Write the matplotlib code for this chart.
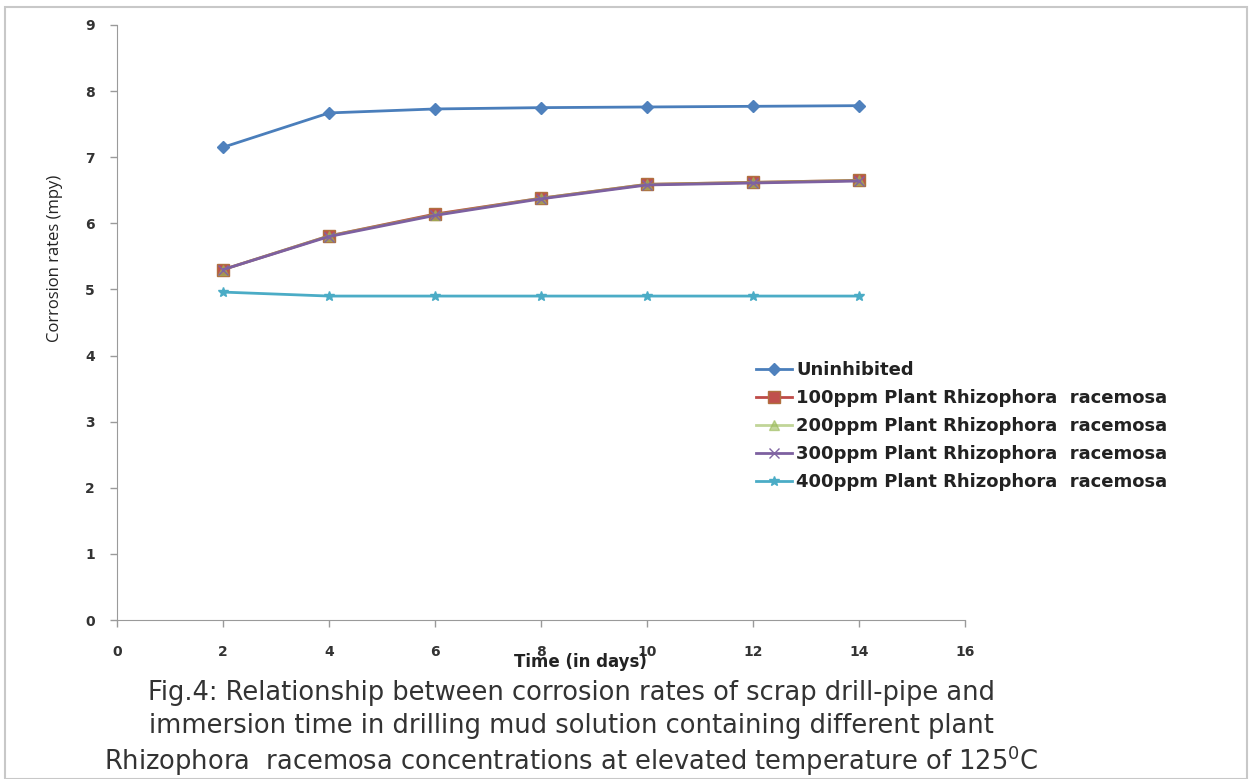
import matplotlib
matplotlib.use('Agg')
import matplotlib.pyplot as plt
from matplotlib.patches import Rectangle

# Data
days = [2, 4, 6, 8, 10, 12, 14]
uninhibited = [7.15, 7.67, 7.73, 7.75, 7.76, 7.77, 7.78]
ppm100 = [5.30, 5.81, 6.14, 6.38, 6.59, 6.62, 6.65]
ppm200 = [5.30, 5.81, 6.13, 6.38, 6.59, 6.62, 6.65]
ppm300 = [5.30, 5.80, 6.12, 6.37, 6.58, 6.61, 6.64]
ppm400 = [4.96, 4.90, 4.90, 4.90, 4.90, 4.90, 4.90]

labels = ['Uninhibited',
          '100ppm Plant Rhizophora  racemosa',
          '200ppm Plant Rhizophora  racemosa',
          '300ppm Plant Rhizophora  racemosa',
          '400ppm Plant Rhizophora  racemosa']

caption = ['Fig.4: Relationship between corrosion rates of scrap drill-pipe and',
           'immersion time in drilling mud solution containing different plant',
           'Rhizophora  racemosa concentrations at elevated temperature of 125$^{0}$C']

W, H = 1260, 779
fig = plt.figure(figsize=(W / 100, H / 100), dpi=100)
ax = fig.add_axes([117 / W, 1 - 620 / H, (965 - 117) / W, (620 - 25) / H])

ax.plot(days, uninhibited, color='#4A7EBB', lw=2, marker='D', ms=6,
        mfc='#4F81BD', mec='#4F81BD', label=labels[0], zorder=3)
ax.plot(days, ppm100, color='#BE4B48', lw=2, marker='s', ms=8,
        mfc='#C0504D', mec='#B0703F', label=labels[1], zorder=3)
ax.plot(days, ppm200, color='#98B954', lw=2, marker='^', ms=7,
        mfc='#9BBB59', mec='#9BBB59', label=labels[2], zorder=3, alpha=0.6)
ax.plot(days, ppm300, color='#7D60A0', lw=2, marker='x', ms=7,
        mec='#8064A2', label=labels[3], zorder=4)
ax.plot(days, ppm400, color='#4BACC6', lw=2, marker='*', ms=7,
        mfc='#4BACC6', mec='#4BACC6', label=labels[4], zorder=3)

ax.set_xlim(0, 16)
ax.set_ylim(0, 9)
ax.set_xticks(range(0, 17, 2))
ax.set_yticks(range(0, 10))

# Axes look
for s in ['top', 'right']:
    ax.spines[s].set_visible(False)
for s in ['left', 'bottom']:
    ax.spines[s].set_color('#9a9a9a')
ax.xaxis.set_tick_params(color='#9a9a9a', labelcolor='#333333', length=5, width=1, pad=13)
ax.yaxis.set_tick_params(color='#9a9a9a', labelcolor='#333333', length=5, width=1, pad=11)
for t in ax.get_xticklabels() + ax.get_yticklabels():
    t.set_fontsize(10)
    t.set_fontweight('bold')

# Axis names
fig.text(580 / W, 1 - 662 / H, 'Time (in days)', ha='center', va='center',
         fontsize=12, fontweight='bold', family='DejaVu Sans', color='#222222')
fig.text(55 / W, 1 - 258 / H, 'Corrosion rates (mpy)', ha='center', va='center',
         rotation=90, fontsize=12, family='Open Sans', color='#222222')

# Legend
leg = ax.legend(loc='upper left', bbox_to_anchor=(749 / W, 1 - 354 / H),
                bbox_transform=fig.transFigure, frameon=False,
                prop={'family': 'DejaVu Sans', 'weight': 'bold', 'size': 13},
                handlelength=2.0, handletextpad=0.2, labelspacing=0.55,
                borderaxespad=0)
for t in leg.get_texts():
    t.set_color('#222222')

# Caption
ys = [693, 726, 761]
for line, y in zip(caption, ys):
    fig.text(571 / W, 1 - y / H, line, ha='center', va='center',
             fontsize=18.5, family='DejaVu Sans', color='#333333')

# Frame around the figure
fig.patches.append(Rectangle((5 / W, 0), 1242 / W, 1 - 7 / H,
                             transform=fig.transFigure, fill=False,
                             ec='#c8c8c8', lw=1.5))

plt.savefig('out.png', dpi=100)
